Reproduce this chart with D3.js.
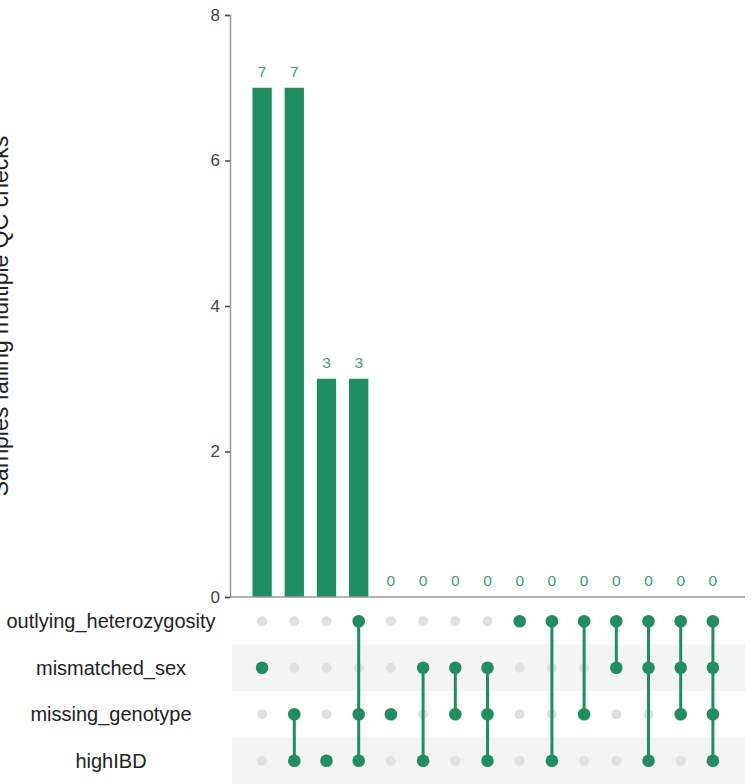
<!DOCTYPE html>
<html><head><meta charset="utf-8">
<script src="https://cdn.jsdelivr.net/npm/d3@7"></script>
<style>body{margin:0;background:#fff;}svg{display:block;font-family:"Liberation Sans",Arial,sans-serif;}</style>
</head><body>
<svg id="c" width="755" height="784"></svg>
<script>
const sets = ["outlying_heterozygosity","mismatched_sex","missing_genotype","highIBD"];
const counts = [7,7,3,3,0,0,0,0,0,0,0,0,0,0,0];
const combos = [
  ["mismatched_sex"],
  ["missing_genotype","highIBD"],
  ["highIBD"],
  ["outlying_heterozygosity","missing_genotype","highIBD"],
  ["missing_genotype"],
  ["mismatched_sex","highIBD"],
  ["mismatched_sex","missing_genotype"],
  ["mismatched_sex","missing_genotype","highIBD"],
  ["outlying_heterozygosity"],
  ["outlying_heterozygosity","highIBD"],
  ["outlying_heterozygosity","missing_genotype"],
  ["outlying_heterozygosity","mismatched_sex"],
  ["outlying_heterozygosity","mismatched_sex","highIBD"],
  ["outlying_heterozygosity","mismatched_sex","missing_genotype"],
  ["outlying_heterozygosity","mismatched_sex","missing_genotype","highIBD"]
];
const yTicks = [0,2,4,6,8];
const yTitle = "Samples failing multiple QC checks";

const green = "#1f8e63";
const svg = d3.select("#c");
const idx = d3.range(counts.length);
const x = d3.scaleBand().domain(idx).range([246, 729]).paddingInner(0.4).paddingOuter(0.2);
const y = d3.scaleLinear().domain([0, 8]).range([597, 15]);
const r = d3.scaleBand().domain(sets).range([598, 784]);

// matrix row backgrounds
svg.append("g").selectAll("rect").data(sets).join("rect")
  .attr("x", 232).attr("width", 513)
  .attr("y", d => r(d)).attr("height", r.bandwidth())
  .attr("fill", (d,i) => i % 2 ? "#f4f4f4" : "#fff");

// bars
svg.append("g").selectAll("rect").data(idx).join("rect")
  .attr("x", i => x(i)).attr("width", x.bandwidth())
  .attr("y", i => y(counts[i])).attr("height", i => y(0) - y(counts[i]))
  .attr("fill", green);

svg.append("g").selectAll("text").data(idx).join("text")
  .attr("x", i => x(i) + x.bandwidth()/2).attr("y", i => y(counts[i]) - 11)
  .attr("text-anchor", "middle").attr("font-size", 15.5).attr("fill", "#3a9f79")
  .text(i => counts[i]);

// y axis
const ya = svg.append("g").attr("transform", "translate(230,0)")
  .call(d3.axisLeft(y).tickValues(yTicks).tickSize(5).tickPadding(5));
ya.select(".domain").attr("stroke", "#999").attr("stroke-width", 1.5);
ya.selectAll(".tick line").attr("stroke", "#444").attr("stroke-width", 1.5);
ya.selectAll(".tick text").attr("font-size", 17).attr("fill", "#444").attr("font-family", "Liberation Sans, Arial, sans-serif");

// x baseline
svg.append("line").attr("x1", 230).attr("x2", 745).attr("y1", y(0)).attr("y2", y(0))
  .attr("stroke", "#999").attr("stroke-width", 1.5);

// y title
svg.append("text").attr("transform", `translate(8,316) rotate(-90)`)
  .attr("text-anchor", "middle").attr("font-size", 23).attr("fill", "#222").text(yTitle);

// row labels
svg.append("g").selectAll("text").data(sets).join("text")
  .attr("x", 111).attr("y", d => r(d) + r.bandwidth()/2 + 7)
  .attr("text-anchor", "middle").attr("font-size", 20).attr("fill", "#222").text(d => d);

// matrix
const cx = i => x(i) + x.bandwidth()/2;
const cy = s => r(s) + r.bandwidth()/2;
const mg = svg.append("g");
idx.forEach(i => {
  const active = combos[i];
  sets.forEach(s => {
    if (!active.includes(s)) mg.append("circle").attr("cx", cx(i)).attr("cy", cy(s)).attr("r", 5).attr("fill", "#e0e0e0");
  });
  if (active.length > 1) {
    const ys = active.map(cy);
    mg.append("line").attr("x1", cx(i)).attr("x2", cx(i))
      .attr("y1", d3.min(ys)).attr("y2", d3.max(ys))
      .attr("stroke", green).attr("stroke-width", 3);
  }
  active.forEach(s => {
    mg.append("circle").attr("cx", cx(i)).attr("cy", cy(s)).attr("r", 6.3).attr("fill", green);
  });
});
</script>
</body></html>
